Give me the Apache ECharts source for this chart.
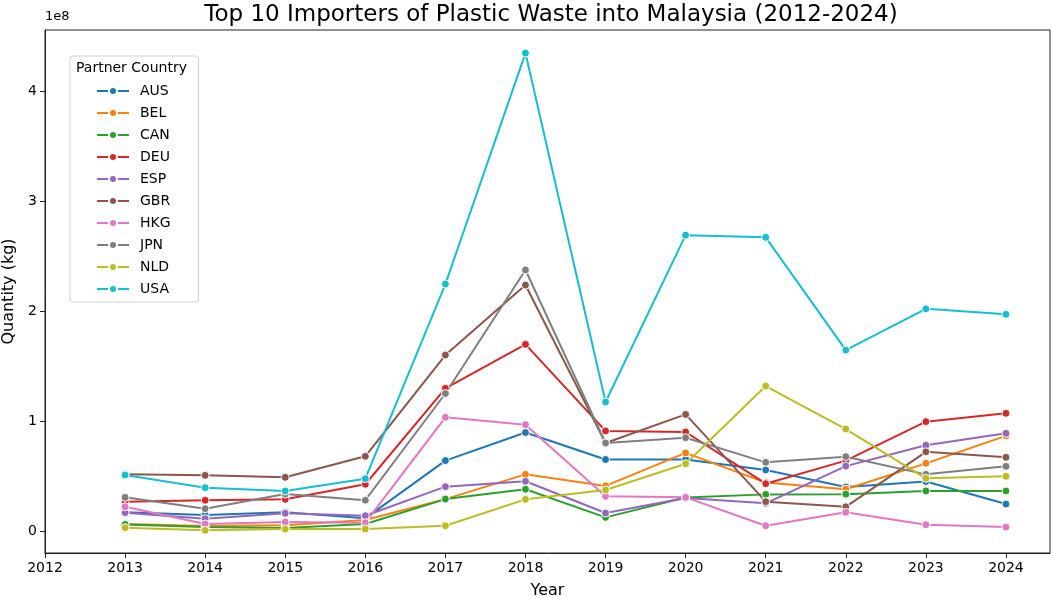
<!DOCTYPE html>
<html>
<head>
<meta charset="utf-8">
<script src="https://cdn.jsdelivr.net/npm/echarts@6/dist/echarts.min.js"></script>
<style>
  html, body { margin: 0; padding: 0; background: #fff; }
  #chart { width: 1052px; height: 598px; }
</style>
</head>
<body>
<div id="chart"></div>
<script>
// Annual plastic waste imports into Malaysia by partner country, in millions of kg
const years = [2013, 2014, 2015, 2016, 2017, 2018, 2019, 2020, 2021, 2022, 2023, 2024];
const countries = ['AUS', 'BEL', 'CAN', 'DEU', 'ESP', 'GBR', 'HKG', 'JPN', 'NLD', 'USA'];

const AUS = [17, 14.5, 17, 11.5, 64, 89.5, 65, 65, 55.5, 40, 45, 24.5];
const BEL = [6.4, 4.5, 5.2, 10, 29, 51.5, 41, 71, 44, 38, 61.5, 86.5];
const CAN = [6, 3.6, 2.7, 6.4, 29, 38, 12.4, 30.5, 33.3, 33.5, 36.4, 36.4];
const DEU = [26.7, 28, 28.8, 42.5, 129.7, 169.7, 91, 90, 43, 64, 99.4, 107];
const ESP = [16.7, 11.2, 16.1, 13.9, 40.3, 45.2, 16.4, 30, 25.2, 59, 77.9, 88.8];
const GBR = [51.5, 50.6, 48.8, 67.9, 160, 223.6, 80, 106, 26.7, 22, 72, 67];
const HKG = [22, 6.4, 8.2, 7.6, 103.4, 96.7, 31.5, 30.6, 4.8, 17, 5.7, 3.6];
const JPN = [30.6, 20.3, 33.6, 28, 125, 237.3, 80, 84.8, 62.4, 67.6, 51.5, 58.8];
const NLD = [3, 0.6, 1.8, 1.8, 4.8, 28.8, 37.3, 61.2, 131.8, 92.7, 47.9, 49.7];
const USA = [51, 39.4, 36.4, 47.6, 224.5, 434.5, 117.3, 269, 267, 164.5, 202, 197];

const xTicks = [2012, 2013, 2014, 2015, 2016, 2017, 2018, 2019, 2020, 2021, 2022, 2023, 2024];
const yTicks = [0, 1e8, 2e8, 3e8, 4e8];

const seriesValues = { AUS, BEL, CAN, DEU, ESP, GBR, HKG, JPN, NLD, USA };
const palette = ['#1f77b4', '#ff7f0e', '#2ca02c', '#d62728', '#9467bd',
                 '#8c564b', '#e377c2', '#7f7f7f', '#bcbd22', '#17becf'];

const FONT = 'DejaVu Sans';
const chart = echarts.init(document.getElementById('chart'), null, { renderer: 'canvas' });

const series = countries.map((name, i) => ({
  name,
  type: 'line',
  data: years.map((y, k) => [y, seriesValues[name][k] * 1e6]),
  symbol: 'circle',
  symbolSize: 8,
  showSymbol: true,
  lineStyle: { width: 2, color: palette[i] },
  itemStyle: { color: palette[i], borderColor: '#fff', borderWidth: 1 },
  emphasis: { disabled: true },
  animation: false
}));

chart.setOption({
  animation: false,
  color: palette,
  textStyle: { fontFamily: FONT },
  title: {
    text: 'Top 10 Importers of Plastic Waste into Malaysia (2012-2024)',
    left: 546, top: -1, textAlign: 'center',
    textStyle: { fontFamily: FONT, fontSize: 23, fontWeight: 'normal', color: '#000' }
  },
  grid: {
    left: 45, right: 2, top: 30, bottom: 45,
    outerBoundsMode: 'none', containLabel: false,
    show: true, borderColor: '#222', borderWidth: 1, backgroundColor: '#fff'
  },
  legend: {
    orient: 'vertical',
    left: 70, top: 56,
    padding: [28, 28, 6, 26],
    itemWidth: 32, itemHeight: 10, itemGap: 8,
    backgroundColor: '#fff',
    borderColor: '#d0d0d0', borderWidth: 1, borderRadius: 3,
    textStyle: { fontFamily: FONT, fontSize: 14, color: '#000', lineHeight: 14, padding: [0, 0, 0, 6] },
    data: countries
  },
  graphic: [
    { type: 'text', left: 45, top: 10, z: 10,
      style: { text: '1e8', fontFamily: FONT, fontSize: 13, fill: '#000' } },
    { type: 'text', left: 76, top: 61, z: 100,
      style: { text: 'Partner Country', fontFamily: FONT, fontSize: 14, fill: '#000' } }
  ],
  xAxis: {
    type: 'value',
    min: 2012, max: 2024.55,
    name: 'Year', nameLocation: 'middle', nameGap: 30,
    nameTextStyle: { fontFamily: FONT, fontSize: 16, color: '#000' },
    splitLine: { show: false },
    axisLine: { show: true, onZero: false, lineStyle: { color: '#222' } },
    axisTick: { show: true, length: 5, customValues: xTicks, lineStyle: { color: '#222' } },
    axisLabel: { customValues: xTicks, margin: 8, fontFamily: FONT, fontSize: 14, color: '#000',
                 formatter: v => String(v) }
  },
  yAxis: {
    type: 'value',
    min: -0.2e8, max: 4.555e8,
    name: 'Quantity (kg)', nameLocation: 'middle', nameGap: 28, nameRotate: 90,
    nameTextStyle: { fontFamily: FONT, fontSize: 16, color: '#000' },
    splitLine: { show: false },
    axisLine: { show: true, onZero: false, lineStyle: { color: '#222' } },
    axisTick: { show: true, length: 5, customValues: yTicks, lineStyle: { color: '#222' } },
    axisLabel: { customValues: yTicks, margin: 8, fontFamily: FONT, fontSize: 14, color: '#000',
                 formatter: v => String(Math.round(v / 1e8)) }
  },
  series
});
</script>
</body>
</html>
